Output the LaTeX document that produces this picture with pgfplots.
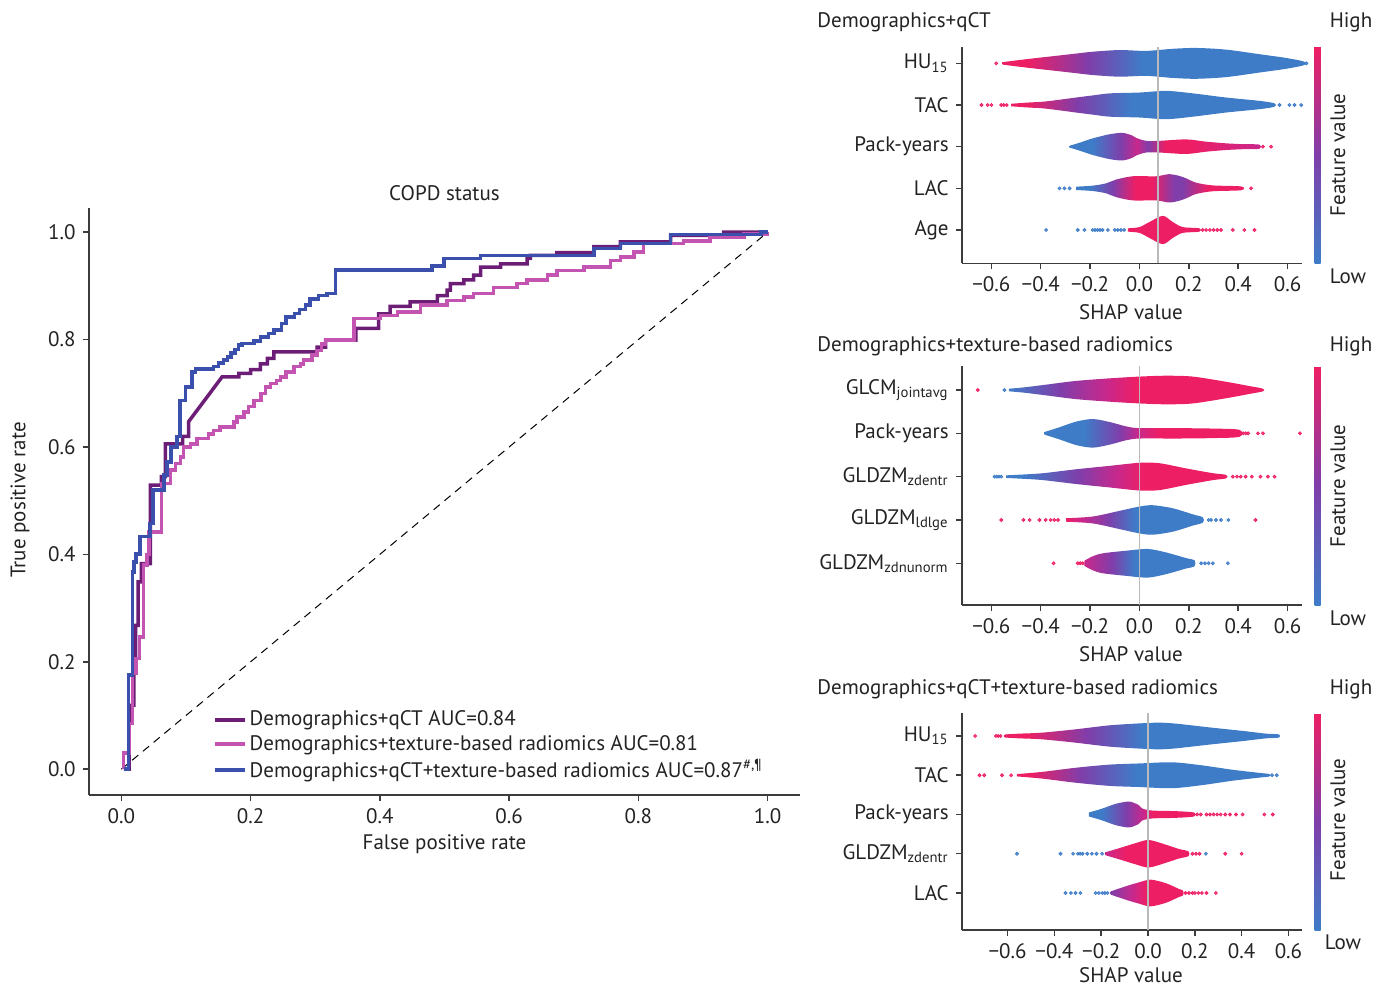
\documentclass[border=0pt]{standalone}
\usepackage{pgfplots}
\pgfplotsset{compat=1.18}
\usepackage{fontspec}
\setmainfont{PT Sans}
\definecolor{cpur}{RGB}{108,30,118}
\definecolor{cpink}{RGB}{196,84,178}
\definecolor{cblue}{RGB}{58,80,172}
\definecolor{axgray}{RGB}{60,60,60}
\definecolor{labgray}{RGB}{35,35,35}
\definecolor{spink}{RGB}{238,30,100}
\definecolor{smagenta}{RGB}{200,40,140}
\definecolor{spurple}{RGB}{128,62,170}
\definecolor{sblue}{RGB}{62,124,200}
\pgfdeclarehorizontalshading{p1hu}{100bp}{color(0bp)=(spink); color(29bp)=(spink); color(39bp)=(spurple); color(48bp)=(sblue); color(100bp)=(sblue)}
\pgfdeclarehorizontalshading{p1tac}{100bp}{color(0bp)=(spink); color(28bp)=(spink); color(37.5bp)=(spurple); color(47.5bp)=(sblue); color(100bp)=(sblue)}
\pgfdeclarehorizontalshading{p1pack}{100bp}{color(0bp)=(sblue); color(31bp)=(sblue); color(38.5bp)=(spurple); color(42.5bp)=(smagenta); color(45.5bp)=(spurple); color(50bp)=(spink); color(56bp)=(spink); color(75bp)=(smagenta); color(100bp)=(smagenta)}
\pgfdeclarehorizontalshading{p1lac}{100bp}{color(0bp)=(sblue); color(29bp)=(sblue); color(36bp)=(spurple); color(42.5bp)=(spink); color(47.5bp)=(spink); color(54bp)=(spurple); color(56.5bp)=(spurple); color(64bp)=(spink); color(100bp)=(spink)}
\pgfdeclarehorizontalshading{p2glcm}{100bp}{color(0bp)=(sblue); color(25bp)=(sblue); color(35bp)=(spurple); color(44bp)=(smagenta); color(50bp)=(spink); color(100bp)=(spink)}
\pgfdeclarehorizontalshading{p2pack}{100bp}{color(0bp)=(sblue); color(35bp)=(sblue); color(44bp)=(spurple); color(48.5bp)=(smagenta); color(54bp)=(spink); color(100bp)=(spink)}
\pgfdeclarehorizontalshading{p2zd}{100bp}{color(0bp)=(sblue); color(29bp)=(sblue); color(41.5bp)=(spurple); color(50bp)=(smagenta); color(56bp)=(spink); color(100bp)=(spink)}
\pgfdeclarehorizontalshading{p2ld}{100bp}{color(0bp)=(spink); color(25bp)=(spink); color(31bp)=(smagenta); color(40bp)=(spurple); color(50bp)=(sblue); color(100bp)=(sblue)}
\pgfdeclarehorizontalshading{p2zn}{100bp}{color(0bp)=(smagenta); color(25bp)=(smagenta); color(37.5bp)=(spurple); color(47.5bp)=(sblue); color(100bp)=(sblue)}
\pgfdeclarehorizontalshading{p3hu}{100bp}{color(0bp)=(spink); color(29bp)=(spink); color(40bp)=(spurple); color(50bp)=(sblue); color(100bp)=(sblue)}
\pgfdeclarehorizontalshading{p3tac}{100bp}{color(0bp)=(spink); color(27.5bp)=(spink); color(37.5bp)=(spurple); color(48.5bp)=(sblue); color(100bp)=(sblue)}
\pgfdeclarehorizontalshading{p3pack}{100bp}{color(0bp)=(sblue); color(31bp)=(sblue); color(42.5bp)=(spurple); color(50bp)=(smagenta); color(55bp)=(spink); color(100bp)=(spink)}
\pgfdeclarehorizontalshading{p3zd}{100bp}{color(0bp)=(smagenta); color(25bp)=(smagenta); color(37.5bp)=(spink); color(100bp)=(spink)}
\pgfdeclarehorizontalshading{p3lac}{100bp}{color(0bp)=(spurple); color(25bp)=(spurple); color(40bp)=(smagenta); color(50bp)=(spink); color(100bp)=(spink)}

\pgfplotsset{
  shapax/.style={
    anchor=south west, scale only axis, width=170pt, clip=false,
    axis x line*=bottom, axis y line*=left,
    axis line style={draw=axgray, line width=0.75pt},
    tick style={draw=axgray, line width=0.75pt},
    tick align=outside, major tick length=3pt,
    xtick={-0.6,-0.4,-0.2,0,0.2,0.4,0.6},
    xticklabels={−0.6,−0.4,−0.2,0.0,0.2,0.4,0.6},
    ytick={0,1,2,3,4},
    ticklabel style={text=labgray},
    xlabel={SHAP value},
    label style={text=labgray},
    colorbar, colormap={shapmap}{rgb255=(62,124,200) rgb255=(128,62,170) rgb255=(238,30,100)},
    point meta min=0, point meta max=1,
    colorbar style={at={(parent axis.north east)}, anchor=north west, xshift=-2.25pt, width=3pt, ytick=\empty, xtick=\empty, axis line style={draw=none}},
  },
  vio/.style={shade, draw=none, smooth, tension=0.5},
  bdot/.style={only marks, mark=*, mark size=0.75pt, color=sblue, mark options={draw=none, fill=sblue, fill opacity=0.75}},
  pdot/.style={only marks, mark=*, mark size=0.75pt, color=spink, mark options={draw=none, fill=spink, fill opacity=0.75}},
  vline/.style={draw=gray!55, line width=0.8pt},
}

\begin{document}
\fontsize{10.5}{12.6}\selectfont
\begin{tikzpicture}
\useasboundingbox (0,0) rectangle (686.5pt,-493.5pt);

% ---------------- ROC ----------------
\begin{axis}[
  at={(44.5pt,-397.5pt)}, anchor=south west, scale only axis,
  width=355.5pt, height=293.5pt,
  xmin=-0.05, xmax=1.05, ymin=-0.048, ymax=1.045,
  axis x line*=bottom, axis y line*=left,
  axis line style={draw=axgray, line width=0.75pt},
  tick style={draw=axgray, line width=0.75pt},
  tick align=outside, major tick length=3pt,
  xtick={0,0.2,0.4,0.6,0.8,1.0}, xticklabels={0.0,0.2,0.4,0.6,0.8,1.0},
  ytick={0,0.2,0.4,0.6,0.8,1.0}, yticklabels={0.0,0.2,0.4,0.6,0.8,1.0},
  ticklabel style={text=labgray},
  xlabel={False positive rate}, ylabel={True positive rate},
  xlabel style={at={(axis description cs:0.5,-0.084)}, anchor=center, text=labgray},
  ylabel style={at={(axis description cs:-0.097,0.5026)}, anchor=center, text=labgray},
  title={COPD status}, title style={at={(axis description cs:0.5,1.0256)}, anchor=center, yshift=-6pt, text=labgray},
  legend style={at={(axis description cs:0.174,0.149)}, anchor=north west, draw=none, fill=none, row sep=0pt, inner sep=0pt, nodes={inner sep=1.5pt, text=labgray}},
  legend cell align=left,
  legend image code/.code={\draw[#1, line width=1.75pt] (0pt,0pt) -- (15pt,0pt);},
]
\addplot[black, line width=0.5pt, dash pattern=on 4pt off 3pt, forget plot] coordinates {(0,0) (1,1)};
\addplot[cpur, line width=1.75pt] coordinates {
(0.004,0)(0.012,0)(0.012,0.119)(0.0196,0.119)(0.0196,0.184)(0.022,0.184)(0.022,0.268)(0.026,0.268)(0.026,0.349)(0.031,0.349)(0.031,0.383)(0.0449,0.383)(0.0449,0.529)(0.062,0.529)(0.062,0.545)(0.068,0.545)(0.068,0.606)(0.095,0.606)(0.095,0.62)(0.104,0.62)(0.104,0.647)(0.156,0.7306)(0.182,0.7306)(0.182,0.737)(0.20,0.737)(0.20,0.744)(0.215,0.744)(0.215,0.755)(0.226,0.755)(0.226,0.765)(0.236,0.765)(0.236,0.777)(0.303,0.777)(0.303,0.786)(0.316,0.786)(0.316,0.799)(0.363,0.799)(0.363,0.821)(0.398,0.821)(0.398,0.848)(0.416,0.848)(0.416,0.862)(0.447,0.862)(0.447,0.870)(0.489,0.870)(0.489,0.882)(0.504,0.882)(0.504,0.892)(0.509,0.892)(0.509,0.904)(0.530,0.904)(0.530,0.911)(0.545,0.911)(0.545,0.920)(0.556,0.920)(0.556,0.935)(0.587,0.935)(0.587,0.941)(0.628,0.941)(0.628,0.951)(0.633,0.951)(0.633,0.957)(0.674,0.957)(0.674,0.962)(0.731,0.962)(0.731,0.973)(0.772,0.973)(0.772,0.982)(0.850,0.982)(0.850,0.994)(0.932,0.994)(0.932,1.0)(1.0,1.0)};
\addlegendentry{Demographics+qCT AUC=0.84}
\addplot[cpink, line width=1.75pt] coordinates {
(0.003,0.0)(0.003,0.03)(0.012,0.03)(0.012,0.085)(0.0175,0.085)(0.0175,0.178)(0.0227,0.178)(0.0227,0.206)(0.028,0.206)(0.028,0.246)(0.034,0.246)(0.034,0.38)(0.04,0.38)(0.04,0.40)(0.0426,0.40)(0.0426,0.442)(0.0625,0.442)(0.0625,0.532)(0.076,0.532)(0.076,0.557)(0.0836,0.557)(0.0836,0.569)(0.0913,0.569)(0.0913,0.581)(0.0965,0.581)(0.0965,0.600)(0.1067,0.600)(0.1067,0.606)(0.117,0.606)(0.117,0.616)(0.135,0.616)(0.135,0.624)(0.143,0.624)(0.143,0.631)(0.153,0.631)(0.153,0.637)(0.174,0.637)(0.174,0.647)(0.179,0.647)(0.179,0.656)(0.190,0.656)(0.190,0.665)(0.197,0.665)(0.197,0.675)(0.205,0.675)(0.205,0.687)(0.216,0.687)(0.216,0.700)(0.223,0.700)(0.223,0.712)(0.231,0.712)(0.231,0.718)(0.240,0.718)(0.240,0.724)(0.246,0.724)(0.246,0.7306)(0.255,0.7306)(0.255,0.740)(0.267,0.740)(0.267,0.7495)(0.277,0.7495)(0.277,0.755)(0.282,0.755)(0.282,0.762)(0.295,0.762)(0.295,0.771)(0.303,0.771)(0.303,0.780)(0.31,0.780)(0.31,0.792)(0.316,0.792)(0.316,0.799)(0.360,0.799)(0.360,0.839)(0.401,0.839)(0.401,0.845)(0.427,0.845)(0.427,0.851)(0.463,0.851)(0.463,0.864)(0.504,0.864)(0.504,0.873)(0.530,0.873)(0.530,0.879)(0.545,0.879)(0.545,0.8855)(0.576,0.8855)(0.576,0.897)(0.612,0.897)(0.612,0.904)(0.628,0.904)(0.628,0.911)(0.659,0.911)(0.659,0.920)(0.674,0.920)(0.674,0.929)(0.716,0.929)(0.716,0.935)(0.757,0.935)(0.757,0.947)(0.772,0.947)(0.772,0.954)(0.793,0.954)(0.793,0.963)(0.808,0.963)(0.808,0.979)(0.870,0.979)(0.870,0.984)(0.911,0.984)(0.911,0.990)(0.963,0.990)(0.963,0.997)(1.0,0.997)(1.0,1.0)};
\addlegendentry{Demographics+texture-based radiomics AUC=0.81}
\addplot[cblue, line width=1.75pt] coordinates {
(0.004,0)(0.011,0)(0.011,0.175)(0.0175,0.175)(0.0175,0.367)(0.0196,0.367)(0.0196,0.386)(0.0227,0.386)(0.0227,0.401)(0.029,0.401)(0.029,0.433)(0.044,0.433)(0.044,0.458)(0.049,0.458)(0.049,0.52)(0.066,0.52)(0.066,0.548)(0.071,0.548)(0.071,0.572)(0.077,0.572)(0.077,0.600)(0.086,0.600)(0.086,0.62)(0.091,0.62)(0.091,0.687)(0.099,0.687)(0.099,0.712)(0.109,0.712)(0.109,0.740)(0.115,0.740)(0.115,0.745)(0.143,0.745)(0.143,0.750)(0.150,0.750)(0.150,0.756)(0.158,0.756)(0.158,0.762)(0.164,0.762)(0.164,0.768)(0.170,0.768)(0.170,0.775)(0.176,0.775)(0.176,0.782)(0.181,0.782)(0.181,0.790)(0.187,0.790)(0.187,0.793)(0.205,0.793)(0.205,0.797)(0.215,0.797)(0.215,0.805)(0.228,0.805)(0.228,0.811)(0.236,0.811)(0.236,0.818)(0.248,0.818)(0.248,0.830)(0.255,0.830)(0.255,0.842)(0.268,0.842)(0.268,0.849)(0.276,0.849)(0.276,0.856)(0.285,0.856)(0.285,0.864)(0.292,0.864)(0.292,0.876)(0.305,0.876)(0.305,0.882)(0.318,0.882)(0.318,0.886)(0.331,0.886)(0.331,0.930)(0.481,0.930)(0.481,0.937)(0.499,0.937)(0.499,0.951)(0.556,0.951)(0.556,0.957)(0.731,0.957)(0.731,0.970)(0.772,0.970)(0.772,0.979)(0.850,0.979)(0.850,0.996)(0.99,0.996)(0.99,1.0)(1.0,1.0)};
\addlegendentry{Demographics+qCT+texture-based radiomics AUC=0.87\textsuperscript{\#,¶}}
\end{axis}

% ---------------- SHAP panel 1 ----------------
\begin{axis}[shapax, at={(481pt,-131.65pt)}, height=108.3pt,
  xmin=-0.7189, xmax=0.6582, ymin=-0.8, ymax=4.4,
  yticklabels={Age,LAC,Pack-years,TAC,HU\textsubscript{15}},
  xlabel style={at={(axis description cs:0.497,-0.225)}, anchor=center}]
\addplot[vio, shading=p1hu] coordinates {(-0.554,4.03)(-0.50,4.07)(-0.459,4.10)(-0.40,4.14)(-0.324,4.19)(-0.25,4.24)(-0.189,4.28)(-0.081,4.32)(0.027,4.30)(0.135,4.35)(0.23,4.37)(0.351,4.33)(0.486,4.22)(0.594,4.13)(0.668,4.04)(0.668,3.96)(0.594,3.87)(0.486,3.78)(0.351,3.67)(0.23,3.63)(0.135,3.65)(0.027,3.70)(-0.081,3.68)(-0.189,3.72)(-0.25,3.76)(-0.324,3.81)(-0.40,3.86)(-0.459,3.90)(-0.50,3.93)(-0.554,3.97)} -- cycle;
\addplot[vio, shading=p1tac] coordinates {(-0.52,3.03)(-0.45,3.06)(-0.39,3.08)(-0.32,3.13)(-0.257,3.18)(-0.19,3.23)(-0.12,3.28)(0.0,3.30)(0.108,3.34)(0.216,3.28)(0.351,3.18)(0.486,3.10)(0.547,3.04)(0.547,2.96)(0.486,2.90)(0.351,2.82)(0.216,2.72)(0.108,2.66)(0.0,2.70)(-0.12,2.72)(-0.19,2.77)(-0.257,2.82)(-0.32,2.87)(-0.39,2.92)(-0.45,2.94)(-0.52,2.97)} -- cycle;
\addplot[vio, shading=p1pack] coordinates {(-0.284,2.02)(-0.24,2.10)(-0.189,2.20)(-0.12,2.30)(-0.068,2.33)(-0.03,2.27)(-0.013,2.21)(0.027,2.14)(0.08,2.14)(0.189,2.175)(0.27,2.12)(0.351,2.08)(0.42,2.06)(0.486,2.05)(0.486,1.95)(0.42,1.94)(0.351,1.92)(0.27,1.88)(0.189,1.825)(0.08,1.86)(0.027,1.86)(-0.013,1.79)(-0.03,1.73)(-0.068,1.67)(-0.12,1.70)(-0.189,1.80)(-0.24,1.90)(-0.284,1.98)} -- cycle;
\addplot[vio, shading=p1lac] coordinates {(-0.256,1.04)(-0.189,1.065)(-0.135,1.12)(-0.095,1.21)(-0.027,1.29)(0.0675,1.29)(0.12,1.34)(0.16,1.30)(0.189,1.24)(0.23,1.135)(0.297,1.07)(0.412,1.045)(0.412,0.955)(0.297,0.93)(0.23,0.865)(0.189,0.76)(0.16,0.70)(0.12,0.66)(0.0675,0.71)(-0.027,0.71)(-0.095,0.79)(-0.135,0.88)(-0.189,0.935)(-0.256,0.96)} -- cycle;
\addplot[draw=none, fill=spink, smooth, tension=0.5] coordinates {(-0.047,0.04)(0.0,0.07)(0.04,0.19)(0.0945,0.34)(0.135,0.19)(0.175,0.07)(0.243,0.04)(0.243,-0.04)(0.175,-0.07)(0.135,-0.19)(0.0945,-0.34)(0.04,-0.19)(0.0,-0.07)(-0.047,-0.04)} -- cycle;
\addplot[bdot] coordinates {(0.676,4)(0.567,3)(0.607,3)(0.628,3)(0.655,3)(-0.324,1)(-0.304,1)(-0.283,1)(-0.378,0)(-0.25,0)(-0.223,0)(-0.19,0)(-0.18,0)(-0.17,0)(-0.16,0)(-0.15,0)(-0.128,0)(-0.1,0)(-0.088,0)(-0.075,0)(-0.062,0)};
\addplot[pdot] coordinates {(-0.58,4)(-0.64,3)(-0.615,3)(-0.6,3)(-0.56,3)(-0.55,3)(-0.538,3)(0.5,2)(0.533,2)(0.452,1)(0.256,0)(0.27,0)(0.285,0)(0.30,0)(0.315,0)(0.33,0)(0.378,0)(0.425,0)(0.466,0)};
\addplot[vline] coordinates {(0.074,-0.8)(0.074,4.4)};
\end{axis}

% ---------------- SHAP panel 2 ----------------
\begin{axis}[shapax, at={(481pt,-302.5pt)}, height=119.5pt,
  xmin=-0.7189, xmax=0.6582, ymin=-0.963, ymax=4.554,
  yticklabels={GLDZM\textsubscript{zdnunorm},GLDZM\textsubscript{ldlge},GLDZM\textsubscript{zdentr},Pack-years,GLCM\textsubscript{jointavg}},
  xlabel style={at={(axis description cs:0.497,-0.205)}, anchor=center}]
\addplot[vio, shading=p2glcm] coordinates {(-0.529,4.03)(-0.47,4.06)(-0.39,4.115)(-0.257,4.21)(-0.12,4.27)(0.0,4.31)(0.108,4.33)(0.216,4.31)(0.351,4.19)(0.446,4.09)(0.5,4.03)(0.5,3.97)(0.446,3.91)(0.351,3.81)(0.216,3.69)(0.108,3.67)(0.0,3.69)(-0.12,3.73)(-0.257,3.79)(-0.39,3.885)(-0.47,3.94)(-0.529,3.97)} -- cycle;
\addplot[vio, shading=p2pack] coordinates {(-0.385,3.03)(-0.324,3.14)(-0.257,3.27)(-0.189,3.33)(-0.12,3.26)(-0.054,3.16)(0.0,3.12)(0.15,3.12)(0.297,3.11)(0.405,3.08)(0.405,2.92)(0.297,2.89)(0.15,2.88)(0.0,2.88)(-0.054,2.84)(-0.12,2.74)(-0.189,2.67)(-0.257,2.73)(-0.324,2.86)(-0.385,2.97)} -- cycle;
\addplot[vio, shading=p2zd] coordinates {(-0.54,2.03)(-0.47,2.05)(-0.39,2.08)(-0.257,2.17)(-0.12,2.25)(0.0,2.32)(0.081,2.31)(0.189,2.19)(0.297,2.08)(0.351,2.04)(0.351,1.96)(0.297,1.92)(0.189,1.81)(0.081,1.69)(0.0,1.68)(-0.12,1.75)(-0.257,1.83)(-0.39,1.92)(-0.47,1.95)(-0.54,1.97)} -- cycle;
\addplot[vio, shading=p2ld] coordinates {(-0.297,1.04)(-0.189,1.08)(-0.081,1.21)(0.0,1.31)(0.054,1.34)(0.135,1.27)(0.216,1.13)(0.257,1.06)(0.257,0.94)(0.216,0.87)(0.135,0.73)(0.054,0.66)(0.0,0.69)(-0.081,0.79)(-0.189,0.92)(-0.297,0.96)} -- cycle;
\addplot[vio, shading=p2zn] coordinates {(-0.223,0.06)(-0.19,0.16)(-0.149,0.23)(-0.054,0.29)(0.034,0.33)(0.108,0.25)(0.189,0.12)(0.223,0.07)(0.223,-0.07)(0.189,-0.12)(0.108,-0.25)(0.034,-0.33)(-0.054,-0.29)(-0.149,-0.23)(-0.19,-0.16)(-0.223,-0.06)} -- cycle;
\addplot[bdot] coordinates {(-0.547,4)(-0.587,2)(-0.578,2)(-0.569,2)(-0.56,2)(0.28,1)(0.29,1)(0.31,1)(0.33,1)(0.36,1)(0.25,0)(0.265,0)(0.28,0)(0.297,0)(0.358,0)};
\addplot[pdot] coordinates {(-0.655,4)(0.42,3)(0.43,3)(0.44,3)(0.48,3)(0.50,3)(0.65,3)(0.378,2)(0.395,2)(0.41,2)(0.43,2)(0.455,2)(0.49,2)(0.52,2)(0.547,2)(-0.56,1)(-0.47,1)(-0.445,1)(-0.405,1)(-0.38,1)(-0.36,1)(-0.345,1)(-0.33,1)(0.47,1)(-0.348,0)(-0.25,0)(-0.24,0)(-0.23,0)};
\addplot[vline] coordinates {(0,-0.963)(0,4.554)};
\end{axis}

% ---------------- SHAP panel 3 ----------------
\begin{axis}[shapax, at={(481pt,-465pt)}, height=108.35pt,
  xmin=-0.795, xmax=0.658, ymin=-0.943, ymax=4.578,
  yticklabels={LAC,GLDZM\textsubscript{zdentr},Pack-years,TAC,HU\textsubscript{15}},
  xlabel style={at={(axis description cs:0.497,-0.21)}, anchor=center}]
\addplot[vio, shading=p3hu] coordinates {(-0.613,4.04)(-0.55,4.06)(-0.453,4.085)(-0.31,4.17)(-0.167,4.27)(-0.039,4.32)(0.047,4.34)(0.119,4.315)(0.261,4.22)(0.404,4.13)(0.504,4.06)(0.559,4.04)(0.559,3.96)(0.504,3.94)(0.404,3.87)(0.261,3.78)(0.119,3.685)(0.047,3.66)(-0.039,3.68)(-0.167,3.73)(-0.31,3.83)(-0.453,3.915)(-0.55,3.94)(-0.613,3.96)} -- cycle;
\addplot[vio, shading=p3tac] coordinates {(-0.56,3.03)(-0.453,3.085)(-0.31,3.19)(-0.167,3.27)(-0.039,3.30)(0.104,3.33)(0.233,3.25)(0.361,3.14)(0.476,3.06)(0.519,3.03)(0.519,2.97)(0.476,2.94)(0.361,2.86)(0.233,2.75)(0.104,2.67)(-0.039,2.70)(-0.167,2.73)(-0.31,2.81)(-0.453,2.915)(-0.56,2.97)} -- cycle;
\addplot[vio, shading=p3pack] coordinates {(-0.253,2.05)(-0.196,2.15)(-0.139,2.27)(-0.081,2.33)(-0.04,2.24)(-0.024,2.15)(0.019,2.10)(0.119,2.085)(0.197,2.05)(0.197,1.95)(0.119,1.915)(0.019,1.90)(-0.024,1.85)(-0.04,1.76)(-0.081,1.67)(-0.139,1.73)(-0.196,1.85)(-0.253,1.95)} -- cycle;
\addplot[vio, shading=p3zd] coordinates {(-0.181,1.04)(-0.124,1.14)(-0.053,1.27)(0.004,1.35)(0.076,1.23)(0.133,1.12)(0.173,1.06)(0.173,0.94)(0.133,0.88)(0.076,0.77)(0.004,0.65)(-0.053,0.73)(-0.124,0.86)(-0.181,0.96)} -- cycle;
\addplot[vio, shading=p3lac] coordinates {(-0.16,0.04)(-0.096,0.17)(-0.039,0.27)(0.011,0.34)(0.076,0.25)(0.133,0.10)(0.15,0.06)(0.15,-0.06)(0.133,-0.10)(0.076,-0.25)(0.011,-0.34)(-0.039,-0.27)(-0.096,-0.17)(-0.16,-0.04)} -- cycle;
\addplot[bdot] coordinates {(0.53,3)(0.55,3)(-0.56,1)(-0.374,1)(-0.32,1)(-0.30,1)(-0.29,1)(-0.28,1)(-0.26,1)(-0.24,1)(-0.22,1)(-0.196,1)(0.247,1)(-0.353,0)(-0.33,0)(-0.31,0)(-0.289,0)(-0.224,0)(-0.21,0)(-0.195,0)(-0.185,0)(-0.174,0)};
\addplot[pdot] coordinates {(-0.739,4)(-0.65,4)(-0.64,4)(-0.63,4)(-0.72,3)(-0.70,3)(-0.624,3)(-0.585,3)(0.21,2)(0.225,2)(0.25,2)(0.265,2)(0.28,2)(0.295,2)(0.31,2)(0.33,2)(0.35,2)(0.376,2)(0.404,2)(0.497,2)(0.533,2)(0.19,1)(0.205,1)(0.22,1)(0.33,1)(0.40,1)(0.16,0)(0.175,0)(0.19,0)(0.2,0)(0.215,0)(0.23,0)(0.25,0)(0.29,0)};
\addplot[vline] coordinates {(0,-0.943)(0,4.578)};
\end{axis}

% ---------------- annotations ----------------
\begin{scope}[text=labgray]
\node[anchor=west, inner sep=0pt] at (408.5pt,-11pt) {Demographics+qCT};
\node[anchor=west, inner sep=0pt] at (408.5pt,-173pt) {Demographics+texture-based radiomics};
\node[anchor=west, inner sep=0pt] at (408.5pt,-344.5pt) {Demographics+qCT+texture-based radiomics};
\node at (675.5pt,-11pt) {High};
\node at (674pt,-138pt) {Low};
\node[rotate=90] at (669pt,-77.5pt) {Feature value};
\node at (675.5pt,-173pt) {High};
\node at (674pt,-309pt) {Low};
\node[rotate=90] at (669pt,-243pt) {Feature value};
\node at (675.5pt,-344.5pt) {High};
\node at (671.5pt,-471pt) {Low};
\node[rotate=90] at (669pt,-410pt) {Feature value};
\end{scope}
\end{tikzpicture}
\end{document}
